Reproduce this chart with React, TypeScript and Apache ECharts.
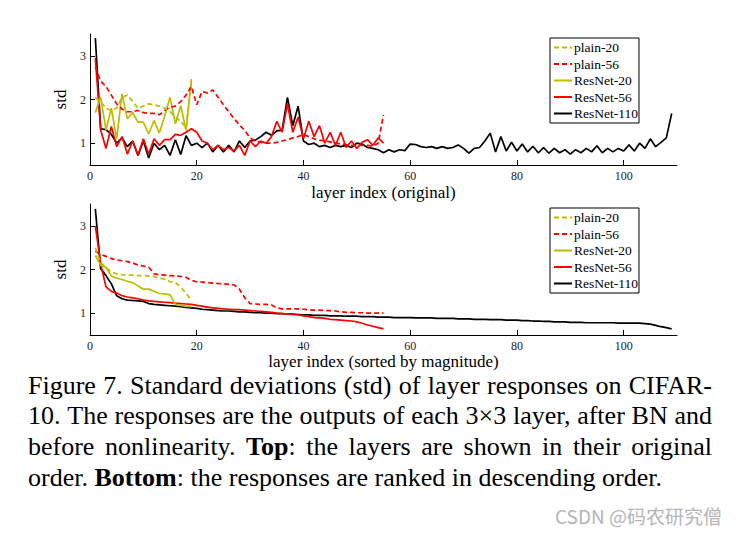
import React, { useEffect, useRef } from "react";
import * as echarts from "echarts";

// ---------- data ----------
const seriesNames = ["plain-20", "plain-56", "ResNet-20", "ResNet-56", "ResNet-110"];
const xTickValues = [0, 20, 40, 60, 80, 100];
const yTickValues = [1, 2, 3];
const topXName = "layer index (original)";
const bottomXName = "layer index (sorted by magnitude)";
const yName = "std";

// Top: original layer order (layer index starts at 1)
const topPlain20 = [2.05, 1.95, 1.8, 1.75, 1.8, 2.05, 2.1, 1.95, 1.8, 1.85, 1.9, 1.88, 1.85, 1.8, 1.72, 1.6, 1.5, 1.35, 2.4];
const topResNet20 = [1.7, 2.05, 1.3, 1.8, 1.1, 2.13, 1.56, 1.7, 1.48, 1.48, 1.21, 1.52, 1.23, 1.63, 2.05, 1.44, 1.86, 1.29, 2.47];
const topPlain56 = [
  2.75, 2.42, 2.3, 2.1, 1.9, 1.78, 1.72, 1.72, 1.75, 1.7, 1.68, 1.68, 1.65, 1.75, 1.82, 1.85, 1.95, 2.1, 2.3, 1.88,
  2.18, 2.15, 2.22, 2.05, 1.88, 1.72, 1.56, 1.42, 1.29, 1.12, 1.05, 1.02, 1.0, 1.0, 1.02, 1.05, 1.08, 1.12, 1.15, 1.2,
  1.15, 1.1, 1.07, 1.05, 1.03, 1.0, 0.98, 0.97, 0.95, 0.95, 0.95, 0.95, 0.93, 1.0, 1.65,
];
const topResNet56 = [
  2.95, 1.3, 0.88, 1.38, 0.92, 1.15, 0.75, 1.05, 0.72, 1.1, 0.75, 1.1, 0.95, 1.08, 1.08, 1.2, 1.18, 1.25, 1.33, 1.25,
  1.05, 1.0, 0.85, 0.95, 0.85, 0.9, 0.82, 0.95, 0.72, 1.05, 0.92, 1.05, 1.0, 1.15, 1.5, 1.25, 1.9, 1.25, 1.6, 1.1,
  1.5, 1.15, 1.4, 1.0, 1.25, 0.95, 1.25, 0.9, 1.05, 0.88, 1.02, 1.08, 0.95, 1.12, 1.0,
];
const topResNet110 = [
  3.41, 1.33, 1.31, 1.2, 1.0, 1.12, 0.92, 1.05, 0.72, 1.05, 0.66, 1.0, 0.85, 0.95, 0.72, 1.08, 0.74, 1.17, 0.95, 1.0,
  0.9, 1.0, 0.8, 0.95, 0.8, 0.95, 0.8, 1.05, 0.9, 1.05, 1.07, 1.15, 1.25, 1.18, 1.28, 1.3, 2.05, 1.4, 1.85, 1.05,
  0.97, 1.0, 0.92, 0.95, 0.9, 0.95, 0.92, 0.95, 0.9, 1.0, 0.98, 0.9, 0.88, 0.85, 0.78, 0.85, 0.8, 0.85, 0.83, 0.98,
  0.97, 0.92, 0.9, 0.92, 0.88, 0.92, 0.88, 0.9, 0.96, 0.88, 0.77, 0.88, 0.9, 1.05, 1.23, 0.8, 1.15, 0.82, 1.02, 0.82,
  0.98, 0.8, 0.93, 0.78, 0.9, 0.77, 0.88, 0.78, 0.85, 0.75, 0.85, 0.78, 0.88, 0.8, 0.94, 0.78, 0.88, 0.8, 0.88, 0.82,
  0.96, 0.82, 1.0, 0.88, 1.1, 0.92, 1.02, 1.12, 1.68,
];

// Bottom: sorted by magnitude
const botPlain20 = [2.5, 2.15, 2.05, 1.94, 1.9, 1.88, 1.87, 1.87, 1.86, 1.86, 1.85, 1.84, 1.8, 1.78, 1.72, 1.7, 1.6, 1.45, 1.3];
const botResNet20 = [2.32, 2.1, 2.05, 1.85, 1.8, 1.77, 1.73, 1.7, 1.62, 1.55, 1.55, 1.5, 1.45, 1.44, 1.42, 1.2, 1.18, 1.16, 1.15];
const botPlain56 = [
  2.42, 2.35, 2.3, 2.25, 2.22, 2.2, 2.18, 2.15, 2.1, 2.08, 2.05, 1.9, 1.88, 1.87, 1.86, 1.85, 1.84, 1.82, 1.75, 1.72,
  1.71, 1.7, 1.69, 1.68, 1.67, 1.66, 1.65, 1.55, 1.35, 1.22, 1.21, 1.2, 1.2, 1.19, 1.12, 1.1, 1.1, 1.1, 1.1, 1.09,
  1.08, 1.07, 1.07, 1.06, 1.06, 1.05, 1.03, 1.02, 1.02, 1.01, 1.01, 1.0, 1.0, 1.0, 1.0,
];
const botResNet56 = [
  3.0, 2.13, 1.6, 1.5, 1.46, 1.4, 1.37, 1.35, 1.33, 1.3, 1.28, 1.27, 1.26, 1.25, 1.24, 1.23, 1.22, 1.21, 1.2, 1.18,
  1.16, 1.14, 1.12, 1.11, 1.1, 1.09, 1.08, 1.08, 1.07, 1.06, 1.05, 1.04, 1.03, 1.02, 1.0, 0.99, 0.98, 0.97, 0.96, 0.94,
  0.92, 0.9, 0.89, 0.88, 0.86, 0.85, 0.84, 0.83, 0.82, 0.8, 0.77, 0.73, 0.7, 0.67, 0.64,
];
const botResNet110 = [
  3.39, 2.02, 1.86, 1.67, 1.4, 1.33, 1.3, 1.29, 1.28, 1.27, 1.22, 1.2, 1.19, 1.18, 1.17, 1.16, 1.15, 1.13, 1.12, 1.11,
  1.09, 1.08, 1.07, 1.06, 1.05, 1.05, 1.04, 1.03, 1.03, 1.02, 1.01, 1.01, 1.0, 1.0, 0.99, 0.99, 0.98, 0.98, 0.97, 0.96,
  0.96, 0.95, 0.95, 0.95, 0.94, 0.94, 0.94, 0.93, 0.93, 0.93, 0.92, 0.92, 0.92, 0.91, 0.91, 0.91, 0.9, 0.9, 0.9, 0.9,
  0.89, 0.89, 0.89, 0.89, 0.88, 0.88, 0.88, 0.88, 0.87, 0.87, 0.87, 0.86, 0.86, 0.86, 0.85, 0.85, 0.85, 0.84, 0.84, 0.84,
  0.83, 0.83, 0.82, 0.82, 0.81, 0.81, 0.8, 0.8, 0.8, 0.79, 0.79, 0.79, 0.78, 0.78, 0.78, 0.78, 0.78, 0.78, 0.77, 0.77,
  0.77, 0.77, 0.77, 0.76, 0.75, 0.72, 0.69, 0.67, 0.64,
];

const captionLines = [
  "Figure 7. Standard deviations (std) of layer responses on CIFAR-",
  "10. The responses are the outputs of each 3\u00d73 layer, after BN and",
  "before nonlinearity. **Top**: the layers are shown in their original",
  "order. **Bottom**: the responses are ranked in descending order.",
];
const watermark = "CSDN @\u7801\u519c\u7814\u7a76\u50e7";

// ---------- styles ----------
const OLIVE = "#BDBD00";
const RED = "#FF0000";
const BLACK = "#000000";
const SERIF = '"Liberation Serif", "Times New Roman", serif';
const CAP_FS = 26;
const CAP_LEFT = 28;
const CAP_RIGHT = 712;
const CAP_Y = [385, 415, 446, 477];

const toPts = (arr: number[]) => arr.map((v, i) => [i + 1, v]);

function makeSeries(gridIdx: number, data: number[][]) {
  const styles = [
    { color: OLIVE, type: "dashed" },
    { color: RED, type: "dashed" },
    { color: OLIVE, type: "solid" },
    { color: RED, type: "solid" },
    { color: BLACK, type: "solid" },
  ];
  return data.map((d, k) => ({
    name: seriesNames[k],
    type: "line",
    xAxisIndex: gridIdx,
    yAxisIndex: gridIdx,
    data: toPts(d as any),
    symbol: "none",
    smooth: false,
    z: 10 - k,
    color: styles[k].color,
    lineStyle: {
      color: styles[k].color,
      width: 1.7,
      type: styles[k].type === "dashed" ? [5, 3] : "solid",
    },
  }));
}

function makeXAxis(gridIdx: number, name: string, gap: number) {
  return {
    type: "value",
    gridIndex: gridIdx,
    min: 0,
    max: 110,
    name,
    nameLocation: "middle",
    nameGap: gap,
    nameTextStyle: { fontFamily: SERIF, fontSize: 17, color: "#000" },
    axisLine: { show: true, onZero: false, lineStyle: { color: "#000", width: 1 } },
    axisTick: { show: true, inside: true, length: 5, customValues: xTickValues, lineStyle: { color: "#000" } },
    axisLabel: { customValues: xTickValues, fontFamily: SERIF, fontSize: 12, color: "#1a1a2e", margin: 5 },
    splitLine: { show: false },
  };
}

function makeYAxis(gridIdx: number) {
  return {
    type: "value",
    gridIndex: gridIdx,
    min: 0.5,
    max: 3.5,
    name: yName,
    nameLocation: "middle",
    nameGap: 11,
    nameRotate: 90,
    nameTextStyle: { fontFamily: SERIF, fontSize: 17, color: "#000" },
    axisLine: { show: true, onZero: false, lineStyle: { color: "#000", width: 1 } },
    axisTick: { show: true, inside: true, length: 5, customValues: yTickValues, lineStyle: { color: "#000" } },
    axisLabel: { customValues: yTickValues, fontFamily: SERIF, fontSize: 12, color: "#1a1a2e", margin: 4 },
    splitLine: { show: false },
  };
}

function makeLegend(top: number) {
  return {
    data: seriesNames,
    orient: "vertical",
    left: 550,
    top,
    itemWidth: 18,
    itemHeight: 12,
    itemGap: 2.5,
    padding: [2.5, 1, 2.5, 3],
    borderColor: "#000",
    borderWidth: 1,
    borderRadius: 0,
    backgroundColor: "#fff",
    selectedMode: false,
    itemStyle: { opacity: 0, borderWidth: 0 },
    textStyle: { fontFamily: SERIF, fontSize: 13.5, color: "#000", lineHeight: 14, padding: [0, 0, 0, -3] },
  };
}

function buildCaption(): any[] {
  const canvas = document.createElement("canvas");
  const ctx = canvas.getContext("2d")!;
  const measure = (t: string, bold: boolean) => {
    ctx.font = `${bold ? "bold " : ""}${CAP_FS}px "Liberation Serif"`;
    return ctx.measureText(t).width;
  };
  const els: any[] = [];
  captionLines.forEach((line, li) => {
    const words = line.split(" ").filter(Boolean).map((w) =>
      w.split(/(\*\*[^*]+\*\*)/).filter(Boolean).map((s) =>
        s.startsWith("**") ? { t: s.slice(2, -2), b: true } : { t: s, b: false }
      )
    );
    const widths = words.map((segs) => segs.reduce((a, s) => a + measure(s.t, s.b), 0));
    const total = widths.reduce((a, b) => a + b, 0);
    const justify = li < captionLines.length - 1;
    const gap = justify ? (CAP_RIGHT - CAP_LEFT - total) / (words.length - 1) : measure(" ", false);
    let x = CAP_LEFT;
    words.forEach((segs, wi) => {
      let sx = x;
      segs.forEach((s) => {
        els.push({
          type: "text",
          x: sx,
          y: CAP_Y[li],
          silent: true,
          style: {
            text: s.t,
            fontFamily: SERIF,
            fontSize: CAP_FS,
            fontWeight: s.b ? "bold" : "normal",
            fill: "#000",
            align: "left",
            verticalAlign: "middle",
          },
        });
        sx += measure(s.t, s.b);
      });
      x += widths[wi] + gap;
    });
  });
  els.push({
    type: "text",
    x: 722,
    y: 515,
    silent: true,
    style: {
      text: watermark,
      fontFamily: '"Noto Sans CJK SC", "Noto Sans", sans-serif',
      fontSize: 19,
      fill: "#b5b5b5",
      align: "right",
      verticalAlign: "middle",
    },
  });
  return els;
}

export default function App() {
  const ref = useRef<HTMLDivElement>(null);
  useEffect(() => {
    if (!ref.current) return;
    const chart = echarts.init(ref.current, undefined, { renderer: "svg" });
    const option: any = {
      animation: false,
      backgroundColor: "#fff",
      grid: [
        { left: 90, top: 34, width: 587, height: 131 },
        { left: 90, top: 204, width: 587, height: 131 },
      ],
      xAxis: [makeXAxis(0, topXName, 19), makeXAxis(1, bottomXName, 17)],
      yAxis: [makeYAxis(0), makeYAxis(1)],
      legend: [makeLegend(38), makeLegend(208)],
      series: [
        ...makeSeries(0, [topPlain20, topPlain56, topResNet20, topResNet56, topResNet110] as any),
        ...makeSeries(1, [botPlain20, botPlain56, botResNet20, botResNet56, botResNet110] as any),
      ],
      graphic: buildCaption(),
    };
    chart.setOption(option);
    return () => chart.dispose();
  }, []);
  return (
    <div
      ref={ref}
      style={{ position: "fixed", left: 0, top: 0, width: 736, height: 534, background: "#fff" }}
    />
  );
}
